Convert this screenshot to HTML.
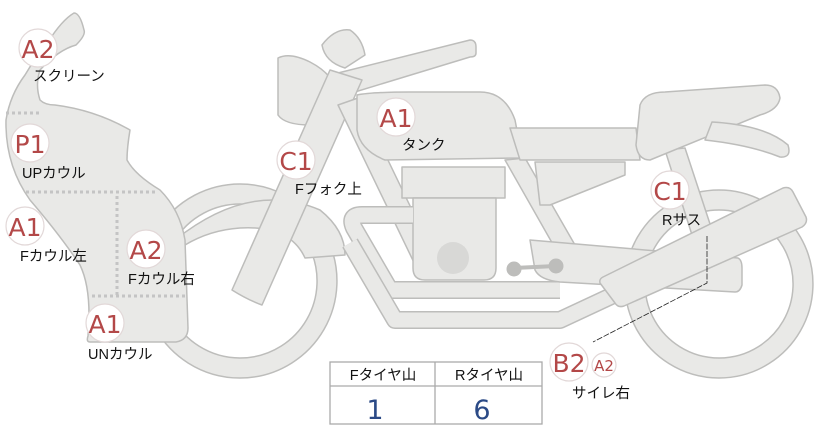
<!DOCTYPE html>
<html><head><meta charset="utf-8"><style>
html,body{margin:0;padding:0;background:#fff;}
body{width:822px;height:425px;overflow:hidden;position:relative;font-family:"Liberation Sans","Noto Sans CJK JP",sans-serif;}
svg{position:absolute;left:0;top:0;}
.b{fill:#fff;stroke:#e2d8d8;stroke-width:1.2;}
.bt{fill:#b34848;font-size:25px;font-family:"DejaVu Sans","Liberation Sans",sans-serif;}
.lb{fill:#111;font-size:14.5px;font-family:"Liberation Sans","Noto Sans CJK JP",sans-serif;}
</style></head><body>
<svg width="822" height="425" viewBox="0 0 822 425" xmlns="http://www.w3.org/2000/svg">
<g fill="#e9e9e7" stroke="#bdbdbb" stroke-width="1.5" stroke-linejoin="round">
<path fill-rule="evenodd" d="M240,184a97,97 0 1,1 -0.1,0z M240,204a77,77 0 1,0 0.1,0z"/>
<path fill-rule="evenodd" d="M719,190a94,94 0 1,1 -0.1,0z M719,210a74,74 0 1,0 0.1,0z"/>
<path d="M175,240 Q250,180 320,210 Q345,230 345,255 L305,258 Q290,225 240,228 Q210,230 185,245z"/>
<path d="M330,75 L470,40 Q476,40 476,47 L476,53 Q476,57 470,57 L345,95z"/>
<path d="M322,45 Q335,28 350,30 Q362,38 365,55 L345,68 Q325,62 322,45z"/>
<path d="M278,58 Q290,52 310,62 Q335,75 337,95 Q333,115 310,125 Q285,125 278,115z"/>
<path d="M232,290 L330,70 L362,80 L262,305 Q248,300 232,290z"/>
<path d="M338,105 L420,275 L440,268 L358,98z"/>
<path d="M505,160 L555,248 L575,245 L525,158z"/>
<path d="M357,95 Q372,92 410,92 L480,92 Q505,92 515,120 Q520,145 520,158 L385,160 Q360,150 357,130z"/>
<path d="M510,128 L636,128 L640,160 L520,160z"/>
<path d="M535,162 L625,162 L625,175 L550,205 L540,205z"/>
<rect x="402" y="167" width="103" height="31"/>
<path d="M413,198 L496,198 L496,268 Q496,280 484,280 L425,280 Q413,280 413,268z"/>
</g>
<!-- tubes -->
<g fill="none" stroke-linejoin="round" stroke-linecap="butt">
<path d="M413,215 L362,215 Q348,215 354,228 L390,290 L560,290" stroke="#bdbdbb" stroke-width="18"/>
<path d="M413,215 L362,215 Q348,215 354,228 L390,290 L560,290" stroke="#e9e9e7" stroke-width="15"/>
<path d="M350,243 L395,320 L560,320 L620,292" stroke="#bdbdbb" stroke-width="18"/>
<path d="M350,243 L395,320 L560,320 L620,292" stroke="#e9e9e7" stroke-width="15"/>
</g>
<g fill="#e9e9e7" stroke="#bdbdbb" stroke-width="1.5" stroke-linejoin="round">
<path d="M530,240 L738,258 Q742,260 742,268 L742,285 Q740,292 735,292 L560,282 Q540,280 535,270z"/>
<path d="M665,150 L685,148 L712,230 L692,235z"/>
<path d="M640,105 Q645,92 665,92 L765,85 Q778,85 780,98 Q778,110 760,115 L650,160 Q638,160 636,145z"/>
<path d="M712,122 Q765,125 788,145 Q792,158 780,157 Q750,145 705,140z"/>
<path d="M603,277 L783,188 Q790,186 793,192 L806,217 Q808,223 802,227 L624,306 Q618,308 615,303 L600,283 Q599,279 603,277z"/>
<path d="M48,42 Q62,20 74,13 Q80,13 84,30 Q86,35 76,45 Q58,50 40,70 Q35,85 40,100 Q45,105 55,105 Q95,110 130,130 Q127,148 127,160 Q135,175 160,190 Q180,210 185,240 L188,328 Q188,340 176,342 L90,342 Q86,342 88,336 Q92,290 80,265 Q60,235 30,200 Q5,165 6,120 Q10,95 25,75 Q35,58 48,42z"/>
</g>
<g fill="#d8d8d6"><circle cx="453" cy="258" r="16"/></g>
<g fill="#bdbdbb" stroke="#bdbdbb"><circle cx="514" cy="269" r="7"/><circle cx="556" cy="266" r="7"/><line x1="514" y1="268" x2="556" y2="266" stroke-width="4"/></g>
<g stroke="#c4c4c4" stroke-width="3" stroke-dasharray="3,3" fill="none">
<line x1="6" y1="113" x2="40" y2="113"/>
<line x1="26" y1="192" x2="155" y2="192"/>
<line x1="117" y1="196" x2="117" y2="296"/>
<line x1="92" y1="296" x2="188" y2="296"/>
</g>
<polyline points="707,236 707,283 593,342" fill="none" stroke="#222" stroke-width="0.8" stroke-dasharray="6,1.5"/>
<g stroke="#aaa" stroke-width="1.3" fill="#fff">
<rect x="330" y="362" width="212" height="62"/>
<line x1="330" y1="386" x2="542" y2="386"/>
<line x1="435" y1="362" x2="435" y2="424"/>
</g>
<text x="383" y="380" text-anchor="middle" class="lb">Fタイヤ山</text>
<text x="489" y="380" text-anchor="middle" class="lb">Rタイヤ山</text>
<text x="375" y="419" text-anchor="middle" fill="#2b4a86" font-size="27" font-family="DejaVu Sans,sans-serif">1</text>
<text x="482" y="419" text-anchor="middle" fill="#2b4a86" font-size="27" font-family="DejaVu Sans,sans-serif">6</text>
<g>
<circle class="b" cx="38" cy="48" r="19"/><text class="bt" x="38" y="58" text-anchor="middle">A2</text>
<circle class="b" cx="30" cy="143" r="19"/><text class="bt" x="30" y="153" text-anchor="middle">P1</text>
<circle class="b" cx="25" cy="226" r="19"/><text class="bt" x="25" y="236" text-anchor="middle">A1</text>
<circle class="b" cx="146" cy="249" r="19"/><text class="bt" x="146" y="259" text-anchor="middle">A2</text>
<circle class="b" cx="105" cy="323" r="19"/><text class="bt" x="105" y="333" text-anchor="middle">A1</text>
<circle class="b" cx="296" cy="160" r="19"/><text class="bt" x="296" y="170" text-anchor="middle">C1</text>
<circle class="b" cx="396" cy="117" r="19"/><text class="bt" x="396" y="127" text-anchor="middle">A1</text>
<circle class="b" cx="670" cy="190" r="19"/><text class="bt" x="670" y="200" text-anchor="middle">C1</text>
<circle class="b" cx="569" cy="362" r="19"/><text class="bt" x="569" y="372" text-anchor="middle">B2</text>
<circle class="b" cx="604" cy="365" r="12"/><text x="604" y="371" text-anchor="middle" fill="#b34848" font-size="15" font-family="DejaVu Sans,sans-serif">A2</text>
</g>
<g class="lb">
<text x="33" y="81">スクリーン</text>
<text x="22" y="178">UPカウル</text>
<text x="20" y="261">Fカウル左</text>
<text x="128" y="284">Fカウル右</text>
<text x="88" y="359">UNカウル</text>
<text x="295" y="194">Fフォク上</text>
<text x="402" y="150">タンク</text>
<text x="662" y="225">Rサス</text>
<text x="572" y="398">サイレ右</text>
</g>
</svg>
</body></html>
